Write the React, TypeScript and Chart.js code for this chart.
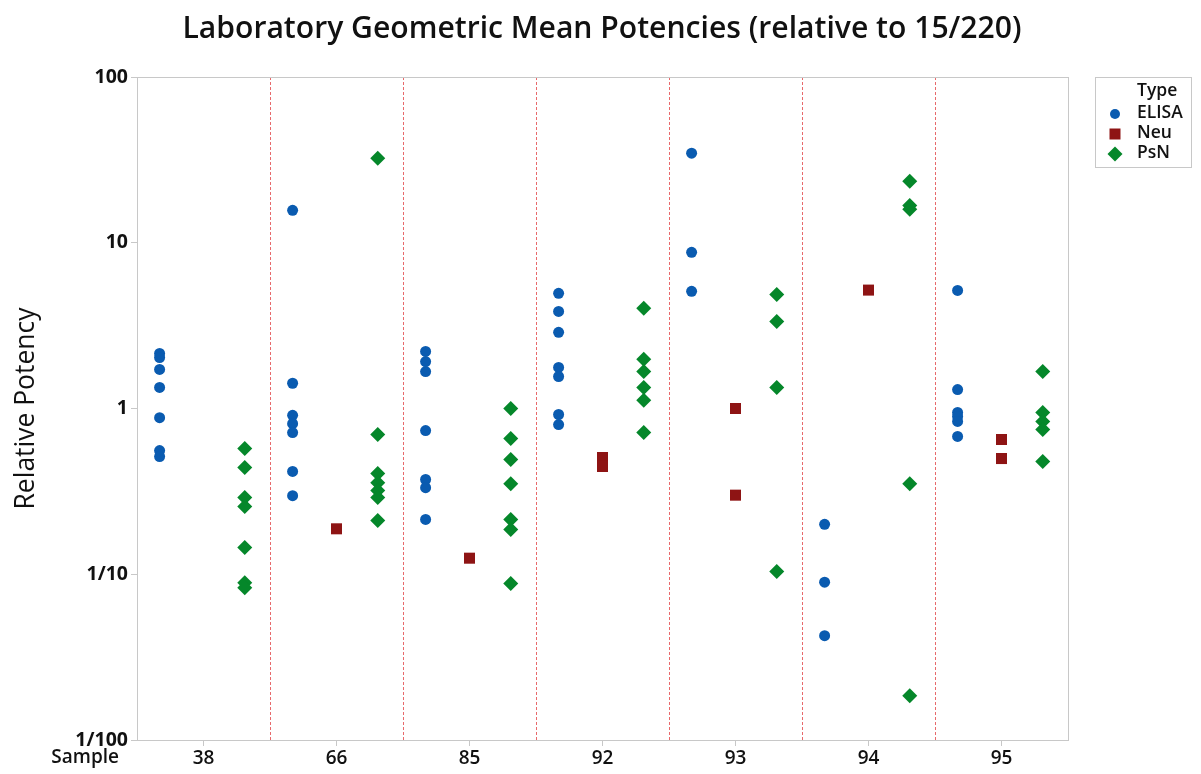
import React, { useEffect, useRef } from "react";
import { Chart, registerables } from "chart.js";

Chart.register(...registerables);

const categories = ["38", "66", "85", "92", "93", "94", "95"];
const yTickValues = [0.01, 0.1, 1, 10, 100];
const yTickLabels = ["1/100", "1/10", "1", "10", "100"];
const typeNames = ["ELISA", "Neu", "PsN"];

const elisaValues = [
  [2.15, 2.03, 1.72, 1.34, 0.88, 0.557, 0.513],
  [15.7, 1.42, 0.91, 0.81, 0.716, 0.417, 0.298],
  [2.21, 1.92, 1.67, 0.736, 0.373, 0.333, 0.214],
  [4.95, 3.85, 2.88, 1.77, 1.56, 0.92, 0.8],
  [34.7, 8.75, 5.09],
  [0.2, 0.0896, 0.0426],
  [5.16, 1.3, 0.946, 0.895, 0.835, 0.678],
];
const neuValues = [
  [],
  [0.188],
  [0.125],
  [0.506, 0.447],
  [1.0, 0.3],
  [5.18],
  [0.65, 0.499],
];
const psnValues = [
  [0.573, 0.44, 0.29, 0.256, 0.145, 0.089, 0.083],
  [32.3, 0.697, 0.405, 0.357, 0.32, 0.29, 0.211],
  [1.0, 0.659, 0.492, 0.352, 0.214, 0.186, 0.0878],
  [4.02, 1.98, 1.67, 1.34, 1.12, 0.716],
  [4.88, 3.35, 1.34, 0.104],
  [23.5, 16.8, 15.9, 0.352, 0.0185],
  [1.67, 0.946, 0.835, 0.747, 0.479],
];

const COLORS = { ELISA: "#0a5bb0", Neu: "#8e1414", PsN: "#05872a" };
const FONT = "'Open Sans', 'Noto Sans', sans-serif";

function toPoints(groups: number[][], offset: number) {
  const pts: { x: number; y: number }[] = [];
  groups.forEach((vals, i) => vals.forEach((v) => pts.push({ x: i + offset, y: v })));
  return pts;
}

function fitFont(ctx: CanvasRenderingContext2D, text: string, weight: string, base: number, target: number) {
  ctx.font = `${weight} ${base}px ${FONT}`;
  const w = ctx.measureText(text).width;
  const size = (base * target) / w;
  ctx.font = `${weight} ${size.toFixed(2)}px ${FONT}`;
}

const decorPlugin = {
  id: "decor",
  beforeDatasetsDraw(chart: any) {
    const { ctx, chartArea, scales } = chart;
    const xs = scales.x;
    ctx.save();
    ctx.strokeStyle = "#e8696b";
    ctx.lineWidth = 1;
    ctx.setLineDash([3, 2]);
    for (let i = 0; i < categories.length - 1; i++) {
      const px = Math.round(xs.getPixelForValue(i + 0.5)) + 0.5;
      ctx.beginPath();
      ctx.moveTo(px, chartArea.top);
      ctx.lineTo(px, chartArea.bottom);
      ctx.stroke();
    }
    ctx.setLineDash([]);
    ctx.strokeStyle = "#c8c8c8";
    ctx.strokeRect(
      Math.round(chartArea.left) + 0.5,
      Math.round(chartArea.top) + 0.5,
      Math.round(chartArea.right - chartArea.left),
      Math.round(chartArea.bottom - chartArea.top)
    );
    ctx.restore();
  },
  afterDraw(chart: any) {
    const { ctx, chartArea } = chart;
    ctx.save();
    // title
    const title = "Laboratory Geometric Mean Potencies (relative to 15/220)";
    ctx.fillStyle = "#111";
    fitFont(ctx, title, "600", 26, 839);
    ctx.textAlign = "center";
    ctx.textBaseline = "middle";
    ctx.fillText(title, 602, 29);
    // y axis title
    ctx.save();
    ctx.translate(26, (chartArea.top + chartArea.bottom) / 2);
    ctx.rotate(-Math.PI / 2);
    fitFont(ctx, "Relative Potency", "400", 24, 202);
    ctx.fillStyle = "#111";
    ctx.fillText("Relative Potency", 0, 0);
    ctx.restore();
    // Sample label
    ctx.font = `600 19px ${FONT}`;
    ctx.textAlign = "right";
    ctx.fillStyle = "#111";
    ctx.fillText("Sample", 119, 758);
    // legend
    const lx = 1095, ly = 77, lw = 96, lh = 90;
    ctx.strokeStyle = "#c8c8c8";
    ctx.lineWidth = 1;
    ctx.strokeRect(lx + 0.5, ly + 0.5, lw, lh);
    ctx.textAlign = "left";
    ctx.font = `600 17.5px ${FONT}`;
    ctx.fillText("Type", 1137, 91);
    const rows = [113, 133, 153];
    typeNames.forEach((name, i) => {
      const y = rows[i];
      const mx = 1115;
      ctx.fillStyle = (COLORS as any)[name];
      ctx.beginPath();
      if (name === "ELISA") {
        ctx.arc(mx, y + 1, 5, 0, Math.PI * 2);
      } else if (name === "Neu") {
        ctx.rect(mx - 5.5, y - 4.5, 11, 11);
      } else {
        ctx.moveTo(mx, y - 6.5);
        ctx.lineTo(mx + 7.5, y + 1);
        ctx.lineTo(mx, y + 8.5);
        ctx.lineTo(mx - 7.5, y + 1);
        ctx.closePath();
      }
      ctx.fill();
      ctx.fillStyle = "#111";
      ctx.fillText(name, 1137, y);
    });
    ctx.restore();
  },
};

export default function App() {
  const ref = useRef<HTMLCanvasElement>(null);
  useEffect(() => {
    if (!ref.current) return;
    const chart = new Chart(ref.current, {
      type: "scatter",
      data: {
        datasets: [
          {
            label: "ELISA",
            data: toPoints(elisaValues, -0.33),
            backgroundColor: COLORS.ELISA,
            borderColor: COLORS.ELISA,
            pointStyle: "circle",
            pointRadius: 5.5,
            borderWidth: 0,
          },
          {
            label: "Neu",
            data: toPoints(neuValues, 0),
            backgroundColor: COLORS.Neu,
            borderColor: COLORS.Neu,
            pointStyle: "rect",
            pointRadius: 7.8,
            borderWidth: 0,
          },
          {
            label: "PsN",
            data: toPoints(psnValues, 0.31),
            backgroundColor: COLORS.PsN,
            borderColor: COLORS.PsN,
            pointStyle: "rectRot",
            pointRadius: 7.5,
            borderWidth: 0,
          },
        ] as any,
      },
      plugins: [decorPlugin],
      options: {
        animation: false,
        responsive: false,
        devicePixelRatio: 1,
        layout: { padding: { left: 0, right: 133, top: 77, bottom: 0 } },
        plugins: {
          legend: { display: false },
          title: { display: false },
          tooltip: { enabled: false },
        },
        scales: {
          x: {
            type: "linear",
            min: -0.5,
            max: categories.length - 0.5,
            afterBuildTicks: (scale: any) => {
              scale.ticks = categories.map((_, i) => ({ value: i }));
            },
            afterFit: (scale: any) => {
              scale.height = 34;
            },
            ticks: {
              autoSkip: false,
              maxRotation: 0,
              padding: 1,
              color: "#111",
              font: { family: FONT, size: 19, weight: "600" },
              callback: (v: any) => categories[Math.round(Number(v))] ?? "",
            },
            grid: {
              drawOnChartArea: false,
              drawTicks: true,
              tickLength: 6,
              color: "#c8c8c8",
            },
            border: { display: true, color: "#c8c8c8" },
          },
          y: {
            type: "logarithmic",
            min: 0.01,
            max: 100,
            afterBuildTicks: (scale: any) => {
              scale.ticks = yTickValues.map((v) => ({ value: v }));
            },
            afterFit: (scale: any) => {
              scale.width = 137;
            },
            ticks: {
              autoSkip: false,
              padding: 3,
              color: "#111",
              font: { family: FONT, size: 19.5, weight: "700" },
              callback: (v: any) => {
                const idx = yTickValues.findIndex((t) => Math.abs(t - Number(v)) < 1e-9);
                return idx >= 0 ? yTickLabels[idx] : "";
              },
            },
            grid: {
              drawOnChartArea: false,
              drawTicks: true,
              tickLength: 6,
              color: "#c8c8c8",
            },
            border: { display: true, color: "#c8c8c8" },
          },
        },
      } as any,
    });
    return () => chart.destroy();
  }, []);
  return (
    <div style={{ position: "absolute", left: 0, top: 0, width: 1201, height: 774, background: "#fff" }}>
      <canvas ref={ref} width={1201} height={774} style={{ display: "block" }} />
    </div>
  );
}
